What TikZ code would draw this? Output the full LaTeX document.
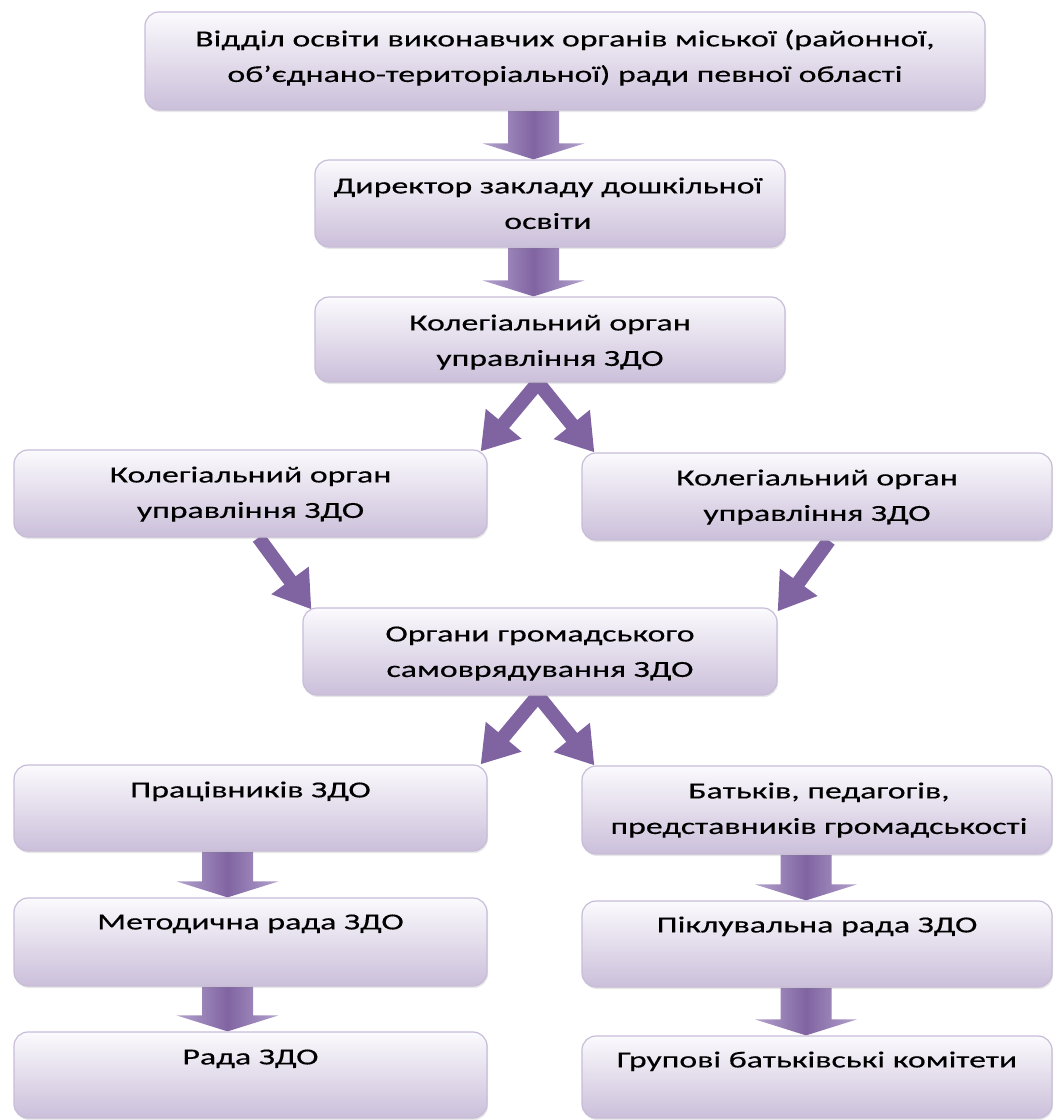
\documentclass[tikz,border=0pt]{standalone}
\usepackage{fontspec}
\setmainfont{Carlito}[FakeStretch=1.47,FakeBold=0.35]
\usetikzlibrary{arrows.meta,calc,shadows}
\pgfdeclarelayer{bg}
\pgfsetlayers{bg,main}
\definecolor{boxtop}{RGB}{251,250,253}
\definecolor{boxbot}{RGB}{203,191,218}
\definecolor{boxline}{RGB}{200,189,216}
\definecolor{arrdark}{RGB}{128,100,162}
\definecolor{arrlight}{RGB}{180,163,205}
\tikzset{
  box/.style={rectangle, rounded corners=14pt, draw=boxline, line width=1.2pt,
    top color=boxtop, bottom color=boxbot, inner sep=0pt,
    drop shadow={opacity=0.18, shadow xshift=1pt, shadow yshift=-2pt}},
  lbl/.style={font=\fontsize{23}{35.5}\selectfont, align=center, inner sep=0pt,
    anchor=base, text=black},
  diag/.style={draw=arrdark, line width=14pt, -{Triangle[length=36pt,width=44pt]}},
  blk/.style={left color=arrlight, right color=arrlight, middle color=arrdark, draw=none},
}
\newcommand\blockarrow[3]{%
  \path[blk] let \p1=(#1.south), \p2=(#2.north) in
    ({#3pt-25.5pt},\y1) -- ({#3pt-25.5pt},{\y2+16pt}) -- ({#3pt-51pt},{\y2+16pt})
    -- ({#3pt},\y2) -- ({#3pt+51pt},{\y2+16pt}) -- ({#3pt+25.5pt},{\y2+16pt})
    -- ({#3pt+25.5pt},\y1) -- cycle;}
\begin{document}
\begin{tikzpicture}[x=1pt,y=-1pt]
\useasboundingbox (0,0) rectangle (1054,1120);
% boxes
\node[box, minimum width=840pt, minimum height=98pt] (n1) at (565,61) {};
\node[box, minimum width=470pt, minimum height=87pt] (n2) at (550,203.5) {};
\node[box, minimum width=470pt, minimum height=85pt] (n3) at (550,339.5) {};
\node[box, minimum width=473pt, minimum height=87pt] (n4) at (250.5,493.5) {};
\node[box, minimum width=470pt, minimum height=87pt] (n5) at (817,496.5) {};
\node[box, minimum width=474pt, minimum height=87pt] (n6) at (540,651.5) {};
\node[box, minimum width=473pt, minimum height=86pt] (n7) at (250.5,808) {};
\node[box, minimum width=470pt, minimum height=88pt] (n8) at (817,810) {};
\node[box, minimum width=473pt, minimum height=88pt] (n9) at (250.5,942) {};
\node[box, minimum width=470pt, minimum height=86pt] (n10) at (817,944) {};
\node[box, minimum width=473pt, minimum height=86pt] (n11) at (250.5,1075) {};
\node[box, minimum width=470pt, minimum height=82pt] (n12) at (817,1077) {};
% labels (base = last line's baseline)
\node[lbl] (t1) at ($(n1.north)+(0,70.5)$) {Відділ освіти виконавчих органів міської (районної,\\об’єднано-територіальної) ради певної області};
\node[lbl] (t2) at ($(n2.north)+(-2,69.5)$) {Директор закладу дошкільної\\освіти};
\node[lbl] (t3) at ($(n3.north)+(0,69.5)$) {Колегіальний орган\\управління ЗДО};
\node[lbl] (t4) at ($(n4.north)+(0,68.5)$) {Колегіальний орган\\управління ЗДО};
\node[lbl] (t5) at ($(n5.north)+(0,68.5)$) {Колегіальний орган\\управління ЗДО};
\node[lbl] (t6) at ($(n6.north)+(0,69.5)$) {Органи громадського\\самоврядування ЗДО};
\node[lbl] (t7) at ($(n7.north)+(0,33)$) {Працівників ЗДО};
\node[lbl] (t8) at ($(n8.north)+(2,68.5)$) {Батьків, педагогів,\\представників громадськості};
\node[lbl] (t9) at ($(n9.north)+(0,32)$) {Методична рада ЗДО};
\node[lbl] (t10) at ($(n10.north)+(0,32)$) {Піклувальна рада ЗДО};
\node[lbl] (t11) at ($(n11.north)+(0,33)$) {Рада ЗДО};
\node[lbl] (t12) at ($(n12.north)+(0,32)$) {Групові батьківські комітети};
% connectors
\begin{pgfonlayer}{bg}
\blockarrow{n1}{n2}{533.5}
\blockarrow{n2}{n3}{533.5}
\blockarrow{n7}{n9}{227.5}
\blockarrow{n9}{n11}{227.5}
\blockarrow{n8}{n10}{806}
\blockarrow{n10}{n12}{806}
\draw[diag] ($(n3.south)+(-12,0)$) -- ($(n4.north east)+(-7,2)$);
\draw[diag] ($(n3.south)+(-12,0)$) -- ($(n5.north west)+(13,0)$);
\draw[diag] ($(n4.south)+(8,0)$) -- ($(n6.north west)+(9,2)$);
\draw[diag] ($(n5.south)+(12,0)$) -- ($(n6.north east)+(0,4)$);
\draw[diag] ($(n6.south)+(-2,0)$) -- ($(n7.north east)+(-7,0)$);
\draw[diag] ($(n6.south)+(-2,0)$) -- ($(n8.north west)+(13,0)$);
\end{pgfonlayer}
\end{tikzpicture}
\end{document}
